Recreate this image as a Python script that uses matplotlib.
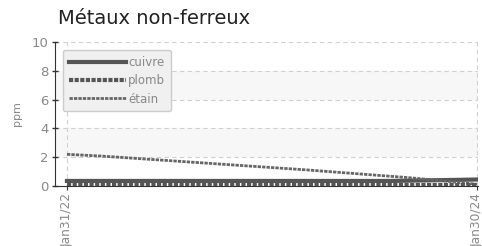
import matplotlib
matplotlib.use("Agg")
import matplotlib.pyplot as plt

months = list(range(25))
tick_pos = [0, 24]
tick_labels = ["Jan31/22", "Jan30/24"]
cuivre = [0.35]*20 + [0.37, 0.39, 0.41, 0.43, 0.45]
plomb = [0.07]*25
etain = [2.2, 2.14, 2.08, 2.0, 1.92, 1.84, 1.76, 1.68, 1.6, 1.52, 1.44, 1.36, 1.28,
         1.2, 1.12, 1.03, 0.94, 0.85, 0.76, 0.67, 0.58, 0.47, 0.36, 0.24, 0.12]

fig = plt.figure(figsize=(4.82, 2.46), dpi=100)
ax = fig.add_axes([55/482, 1-186/246, 423/482, 144/246])

ax.set_xlim(-0.70, 24.06)
ax.set_ylim(0, 10)
for lo in (2, 6):
    ax.axhspan(lo, lo+2, color="#f7f7f7", zorder=0, lw=0)
for yv in (2, 4, 6, 8, 10):
    ax.axhline(yv, color="#d0d0d0", ls=(0, (4, 3)), lw=0.8, zorder=1)
for xv in tick_pos:
    ax.axvline(xv, color="#d0d0d0", ls=(0, (4, 3)), lw=0.8, zorder=1)

ax.plot(months, cuivre, color="#555555", lw=3, label="cuivre", zorder=3)
ax.plot(months, plomb, color="#555555", lw=3, ls=(0, (1, 0.35)), label="plomb", zorder=4)
ax.plot(months, etain, color="#666666", lw=2, ls=(0, (1.2, 0.4)), label="étain", zorder=3)

ax.set_xticks(tick_pos)
ax.set_xticklabels(tick_labels, rotation=90, fontsize=8.8, color="#888888")
ax.set_yticks([0, 2, 4, 6, 8, 10])
ax.set_yticklabels(["0", "2", "4", "6", "8", "10"], fontsize=9.5, color="#888888")
ax.tick_params(axis="y", direction="inout", length=5, width=1, color="#333333", pad=2)
ax.tick_params(axis="x", direction="out", length=3, width=0.8, color="#333333", pad=2)
ax.set_ylabel("ppm", fontsize=8, color="#888888", labelpad=7)

for s in ("top", "right"):
    ax.spines[s].set_visible(False)
ax.spines["left"].set_color("#333333")
ax.spines["bottom"].set_color("#333333")

leg = ax.legend(loc="upper left", bbox_to_anchor=(8/423, 1-8/144), frameon=True, fancybox=True,
                prop={"size": 8.5}, borderaxespad=0,
                handlelength=4.8, handletextpad=0.2,
                labelspacing=0.45, borderpad=0.5, labelcolor="#888888")
leg.get_frame().set_facecolor("#f0f0f0")
leg.get_frame().set_edgecolor("#cccccc")
leg.get_frame().set_alpha(1)

fig.text(58/482, 1-18/246, "Métaux non-ferreux", fontsize=14, color="#222222", va="center")

fig.savefig("out.png", dpi=100)
